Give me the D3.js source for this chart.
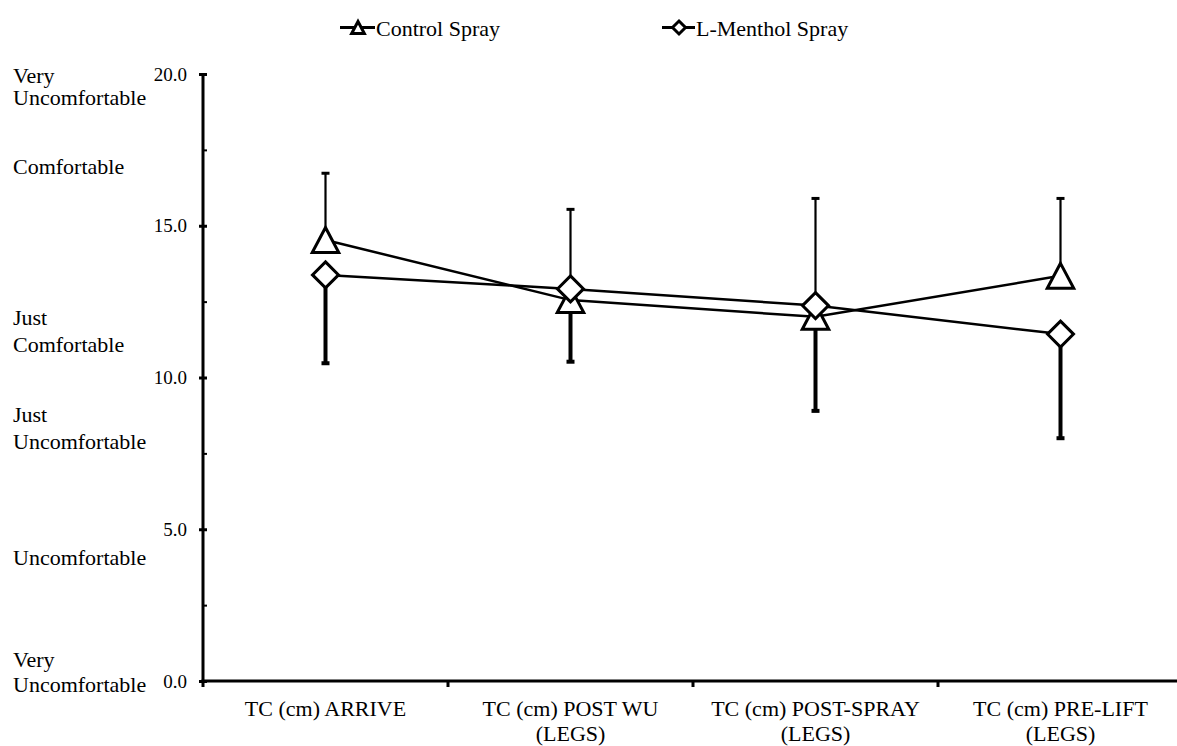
<!DOCTYPE html>
<html><head><meta charset="utf-8">
<script src="https://cdn.jsdelivr.net/npm/d3@7"></script>
<style>
body{margin:0;background:#fff;}
</style></head>
<body><svg id="chart" width="1177" height="746"></svg>
<script>
const categories = [["TC (cm) ARRIVE"],["TC (cm) POST WU","(LEGS)"],["TC (cm) POST-SPRAY","(LEGS)"],["TC (cm) PRE-LIFT","(LEGS)"]];
const seriesNames = ["Control Spray","L-Menthol Spray"];
const controlMean = [14.53, 12.55, 12.0, 13.35];
const controlErr  = [2.2, 2.99, 3.9, 2.55];
const mentholMean = [13.38, 12.92, 12.37, 11.43];
const mentholErr  = [2.91, 2.4, 3.47, 3.43];
const yTicks = [0, 5, 10, 15, 20];
const yMinorTicks = [2.5, 7.5, 12.5, 17.5];
const scaleLabels = [["Very","Uncomfortable"],["Comfortable"],["Just","Comfortable"],["Just","Uncomfortable"],["Uncomfortable"],["Very","Uncomfortable"]];

// layout
const FONT = "Liberation Serif";
const scaleLabelY = [[83,105],[174],[325,352],[422,449],[565],[667,692]];
const svg = d3.select("#chart");
const catKeys = categories.map((c,i)=>i);
const x = d3.scaleBand().domain(catKeys).range([203, 1183]).padding(0);
const y = d3.scaleLinear().domain([0,20]).range([681, 74]);
const cx = i => x(i) + x.bandwidth()/2;

// Y axis
const ya = svg.append("g").attr("transform","translate(203,0)")
  .call(d3.axisLeft(y).tickValues(yTicks).tickFormat(d3.format(".1f")).tickSizeInner(4).tickSizeOuter(0).tickPadding(12));
ya.select(".domain").remove();
ya.selectAll(".tick line").attr("x2",4).attr("x1",-4).attr("stroke","#000").attr("stroke-width",3);
ya.selectAll(".tick text").attr("font-size",19).attr("fill","#000").attr("dy","0.32em").attr("font-family",FONT);
const ym = svg.append("g").attr("transform","translate(203,0)")
  .call(d3.axisRight(y).tickValues(yMinorTicks).tickFormat("").tickSizeInner(4).tickSizeOuter(0));
ym.select(".domain").remove();
ym.selectAll(".tick line").attr("stroke","#000").attr("stroke-width",2);
svg.append("line").attr("x1",203).attr("x2",203).attr("y1",y(20)-1).attr("y2",y(0)+1.5).attr("stroke","#000").attr("stroke-width",3);

// X axis
svg.append("line").attr("x1",201.5).attr("x2",1177).attr("y1",y(0)).attr("y2",y(0)).attr("stroke","#000").attr("stroke-width",3);
svg.selectAll(".xt").data(catKeys).enter().append("line")
  .attr("x1",d=>x(d)).attr("x2",d=>x(d)).attr("y1",y(0)).attr("y2",y(0)+6).attr("stroke","#000").attr("stroke-width",3);
const xl = svg.selectAll(".xl").data(catKeys).enter().append("text")
  .attr("text-anchor","middle").attr("font-size",22).attr("font-family",FONT).attr("fill","#000");
xl.each(function(d){
  const t = d3.select(this);
  categories[d].forEach((ln,j)=>{
    t.append("tspan").attr("x",cx(d)).attr("y",716 + j*25).text(ln);
  });
});

// scale labels at left
scaleLabels.forEach((lines,i)=>{
  const t = svg.append("text").attr("font-size",22).attr("font-family",FONT).attr("fill","#000");
  lines.forEach((ln,j)=>t.append("tspan").attr("x",13).attr("y",scaleLabelY[i][j]).text(ln));
});

// lines
const line = d3.line().x((d,i)=>cx(i)).y(d=>y(d));
svg.append("path").datum(controlMean).attr("d",line).attr("fill","none").attr("stroke","#000").attr("stroke-width",2.5);
svg.append("path").datum(mentholMean).attr("d",line).attr("fill","none").attr("stroke","#000").attr("stroke-width",2.5);

// error bars: control (plus, thin), menthol (minus, thick)
controlMean.forEach((m,i)=>{
  svg.append("line").attr("x1",cx(i)).attr("x2",cx(i)).attr("y1",y(m)).attr("y2",y(m+controlErr[i])).attr("stroke","#000").attr("stroke-width",2.2);
  svg.append("line").attr("x1",cx(i)-4).attr("x2",cx(i)+4).attr("y1",y(m+controlErr[i])).attr("y2",y(m+controlErr[i])).attr("stroke","#000").attr("stroke-width",3);
});
mentholMean.forEach((m,i)=>{
  svg.append("line").attr("x1",cx(i)).attr("x2",cx(i)).attr("y1",y(m)).attr("y2",y(m-mentholErr[i])).attr("stroke","#000").attr("stroke-width",4);
  svg.append("line").attr("x1",cx(i)-4).attr("x2",cx(i)+4).attr("y1",y(m-mentholErr[i])).attr("y2",y(m-mentholErr[i])).attr("stroke","#000").attr("stroke-width",4);
});

// markers
const triPath = (s)=>`M0,${-s/2}L${s*0.53},${s/2}L${-s*0.53},${s/2}Z`;
const diaPath = (s)=>`M0,${-s/2}L${s/2},0L0,${s/2}L${-s/2},0Z`;
controlMean.forEach((m,i)=>{
  svg.append("path").attr("d",triPath(25)).attr("transform",`translate(${cx(i)},${y(m)})`)
    .attr("fill","#fff").attr("stroke","#000").attr("stroke-width",3).attr("stroke-linejoin","miter");
});
mentholMean.forEach((m,i)=>{
  svg.append("path").attr("d",diaPath(26)).attr("transform",`translate(${cx(i)},${y(m)})`)
    .attr("fill","#fff").attr("stroke","#000").attr("stroke-width",3);
});

// legend
const legend = [{x:340, tx:376, shape:triPath(12)},{x:662, tx:696, shape:diaPath(13)}];
legend.forEach((l,i)=>{
  const ly = 27.5;
  svg.append("line").attr("x1",l.x).attr("x2",l.tx-1).attr("y1",ly).attr("y2",ly).attr("stroke","#000").attr("stroke-width",3);
  svg.append("path").attr("d",l.shape).attr("transform",`translate(${(l.x+l.tx)/2},${ly})`)
    .attr("fill","#fff").attr("stroke","#000").attr("stroke-width",3);
  svg.append("text").attr("x",l.tx).attr("y",36).attr("font-size",22).attr("font-family",FONT).attr("fill","#000").text(seriesNames[i]);
});
</script></body></html>
